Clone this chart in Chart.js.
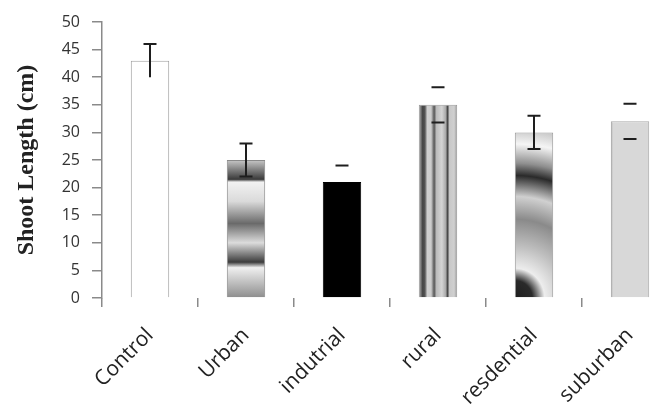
<!DOCTYPE html>
<html>
<head>
<meta charset="utf-8">
<script src="https://cdn.jsdelivr.net/npm/chart.js@4"></script>
<style>
  html, body { margin: 0; padding: 0; background: #fff; overflow: hidden; }
  #wrap { width: 671px; height: 411px; overflow: hidden; }
</style>
</head>
<body>
<div id="wrap"><canvas id="chart" width="690" height="411"></canvas></div>
<script>
const categories = ['Control', 'Urban', 'indutrial', 'rural', 'resdential', 'suburban'];
const shootLength = [43, 25, 21, 35, 30, 32];
const errors = [3, 3, 3, 3.2, 3, 3.2];
const yTicks = [0, 5, 10, 15, 20, 25, 30, 35, 40, 45, 50];

// which parts of each error bar are visible in the picture
const showStem = [true, true, false, false, true, false];
const showLowCap = [false, true, false, true, true, true];

const BAR_PCT = 0.4;

function barBox(chart, i) {
    const xs = chart.scales.x, ys = chart.scales.y;
    const w = xs.width / categories.length * BAR_PCT;
    const cx = xs.getPixelForValue(i);
    return { left: cx - w / 2, right: cx + w / 2, top: ys.getPixelForValue(shootLength[i]), bottom: ys.getPixelForValue(0) };
}

function addStops(g, stops) {
    stops.forEach(s => g.addColorStop(s[0], s[1]));
    return g;
}

function barFill(c) {
    const chart = c.chart;
    const i = c.dataIndex;
    if (!chart.scales || !chart.scales.x || !chart.scales.y || !chart.chartArea) return '#ccc';
    const b = barBox(chart, i);
    const ctx = chart.ctx;
    if (!isFinite(b.left) || !isFinite(b.top)) return '#ccc';
    switch (i) {
        case 0:
            return '#ffffff';
        case 1:
            return addStops(ctx.createLinearGradient(0, b.top, 0, b.bottom), [
                [0, '#c8c8c8'], [0.14, '#3a3a3a'], [0.16, '#f2f2f2'], [0.3, '#dadada'],
                [0.46, '#6a6a6a'], [0.6, '#dcdcdc'], [0.74, '#3c3c3c'], [0.78, '#f0f0f0'], [1, '#8c8c8c']
            ]);
        case 2:
            return '#000000';
        case 3:
            return addStops(ctx.createLinearGradient(b.left, 0, b.right, 0), [
                [0, '#bbbbbb'], [0.1, '#444444'], [0.16, '#555555'], [0.22, '#d0d0d0'], [0.32, '#cccccc'],
                [0.4, '#555555'], [0.46, '#bbbbbb'], [0.6, '#d4d4d4'], [0.7, '#aaaaaa'],
                [0.75, '#444444'], [0.8, '#c8c8c8'], [0.92, '#d0d0d0'], [1, '#999999']
            ]);
        case 4: {
            const r = 175;
            return addStops(ctx.createRadialGradient(b.left, b.bottom, 0, b.left, b.bottom, r), [
                [0, '#1e1e1e'], [0.1, '#2a2a2a'], [0.17, '#ededed'], [0.3, '#bdbdbd'],
                [0.45, '#8a8a8a'], [0.58, '#d0d0d0'], [0.7, '#2a2a2a'], [0.77, '#8f8f8f'],
                [0.88, '#f5f5f5'], [1, '#b5b5b5']
            ]);
        }
        default:
            return addStops(ctx.createLinearGradient(b.left, 0, b.right, 0), [
                [0, '#777777'], [0.05, '#d8d8d8'], [1, '#d8d8d8']
            ]);
    }
}

const errorBars = {
    id: 'errorBars',
    afterDatasetsDraw(chart) {
        const ctx = chart.ctx;
        const ys = chart.scales.y;
        const meta = chart.getDatasetMeta(0);
        ctx.save();
        ctx.strokeStyle = '#1e1e1e';
        ctx.lineWidth = 2;
        meta.data.forEach((bar, i) => {
            const hi = ys.getPixelForValue(shootLength[i] + errors[i]);
            const lo = ys.getPixelForValue(shootLength[i] - errors[i]);
            const x = bar.x;
            const cap = 6.5;
            ctx.beginPath();
            ctx.moveTo(x - cap, hi); ctx.lineTo(x + cap, hi);
            if (showLowCap[i]) { ctx.moveTo(x - cap, lo); ctx.lineTo(x + cap, lo); }
            if (showStem[i]) { ctx.moveTo(x, hi); ctx.lineTo(x, lo); }
            ctx.stroke();
        });
        ctx.restore();
    }
};

new Chart(document.getElementById('chart'), {
    type: 'bar',
    data: {
        labels: categories,
        datasets: [{
            label: 'Shoot Length',
            data: shootLength,
            backgroundColor: barFill,
            borderColor: ['#a0a0a0', '#8a8a8a', '#000000', '#9a9a9a', '#9a9a9a', '#a8a8a8'],
            borderWidth: 1,
            borderSkipped: 'bottom',
            barPercentage: BAR_PCT,
            categoryPercentage: 1
        }]
    },
    options: {
        responsive: false,
        animation: false,
        layout: { padding: { top: 22, right: 12, left: 0, bottom: 0 } },
        plugins: { legend: { display: false }, tooltip: { enabled: false } },
        scales: {
            x: {
                grid: { display: true, drawOnChartArea: false, drawTicks: true, tickLength: 9, color: '#8a8a8a', lineWidth: 1.5 },
                border: { display: false },
                ticks: { minRotation: 45, maxRotation: 45, color: '#222', font: { family: 'Open Sans', size: 21 }, padding: 16 },
                afterFit: s => { s.height = 113; }
            },
            y: {
                min: 0,
                max: 50,
                afterBuildTicks: s => { s.ticks = yTicks.map(v => ({ value: v })); },
                grid: { display: true, drawOnChartArea: false, drawTicks: true, tickLength: 10, color: '#8a8a8a', lineWidth: 1.5 },
                border: { display: true, color: '#8a8a8a', width: 1.5 },
                ticks: { color: '#333', font: { family: 'Open Sans', size: 16 }, padding: 12 },
                title: {
                    display: true,
                    text: 'Shoot Length (cm)',
                    color: '#222',
                    font: { family: 'Liberation Serif', size: 24, weight: 'bold' },
                    padding: { top: 12, bottom: 0 }
                },
                afterFit: s => { s.width = 102; }
            }
        }
    },
    plugins: [errorBars]
});
</script>
</body>
</html>
